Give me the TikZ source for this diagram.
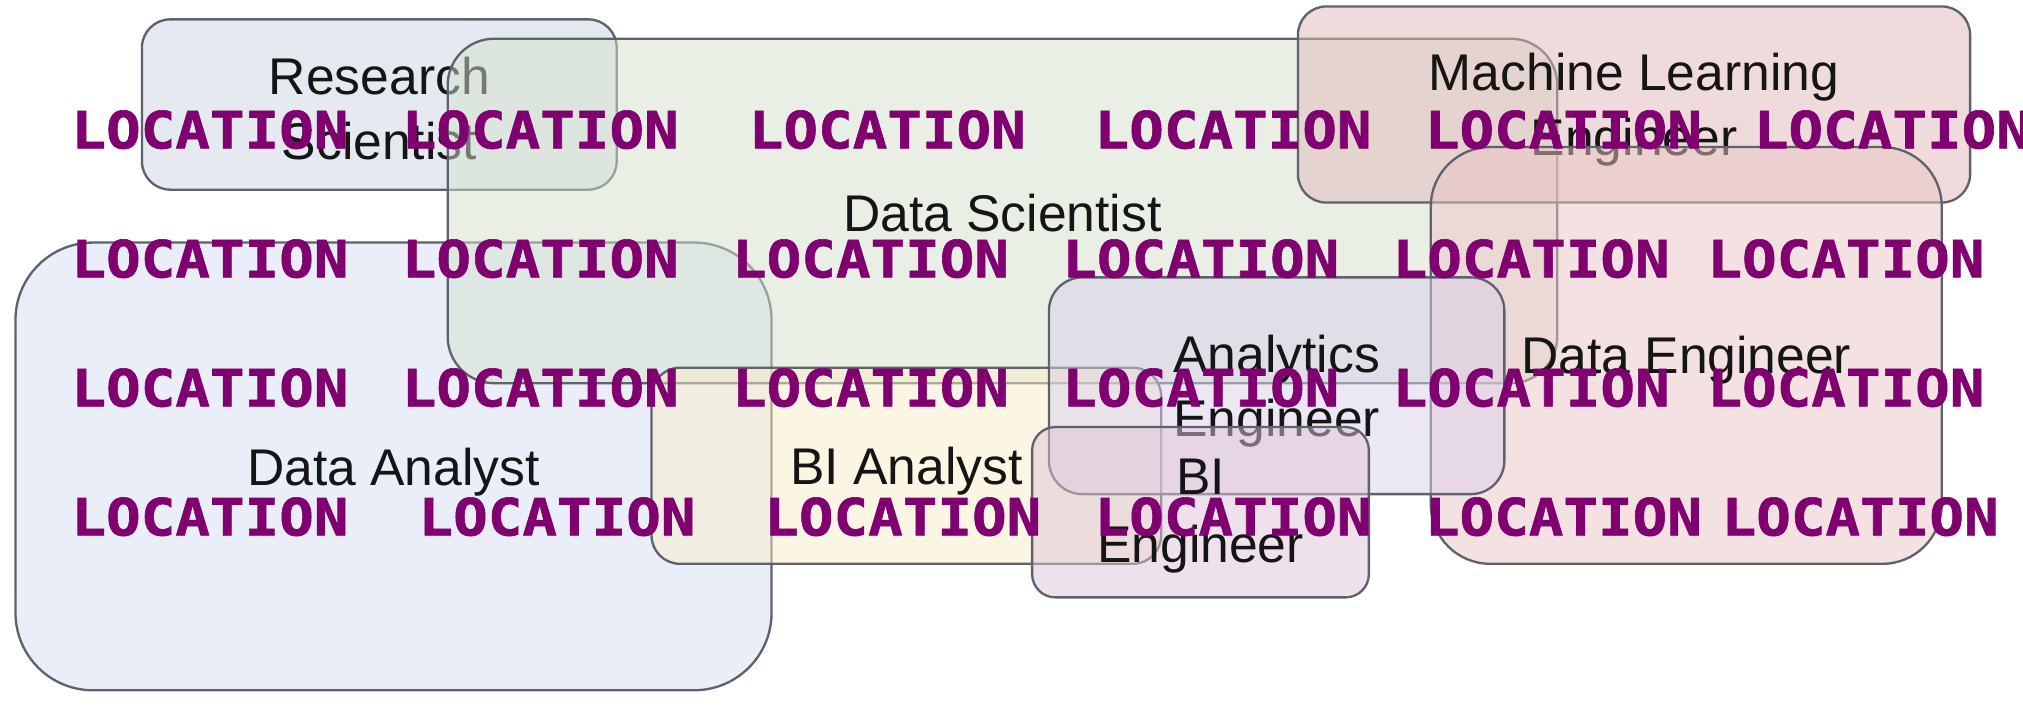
\documentclass[tikz,border=0pt]{standalone}
\usepackage{fontspec}
\setmainfont{Liberation Sans}
\newfontfamily\locfont{DejaVu Sans Mono}[FakeStretch=1.12, BoldFeatures={FakeBold=1.2}]
\definecolor{locpurple}{HTML}{800070}
\definecolor{edgegray}{HTML}{5E626C}
\definecolor{txtdark}{HTML}{151515}
\definecolor{cRS}{HTML}{CBD7E3}
\definecolor{cDS}{HTML}{D5E1CD}
\definecolor{cML}{HTML}{E1B9B9}
\definecolor{cDE}{HTML}{EBC5C5}
\definecolor{cDA}{HTML}{D7DFF3}
\definecolor{cBA}{HTML}{F9EDC9}
\definecolor{cAE}{HTML}{D9D1E9}
\definecolor{cBE}{HTML}{E1C5D9}
\tikzset{
  rolebox/.style={draw=edgegray, line width=0.9pt, fill opacity=0.5, inner sep=0pt},
  roletext/.style={text=txtdark, font=\fontsize{20}{25}\selectfont, align=center, inner sep=0pt},
  loc/.style={anchor=base west, inner sep=0pt, text=locpurple,
    font=\locfont\bfseries\fontsize{19.9}{20}\selectfont}
}
\begin{document}
\begin{tikzpicture}[x=0.5pt,y=-0.5pt]
\useasboundingbox (0,0) rectangle (1568,558);
\fill[white] (0,0) rectangle (1568,558);
% role boxes, each followed by its label
\node[rolebox, fill=cDA, minimum width=293pt, minimum height=173.5pt, rounded corners=30pt] (da) at (305,361.5) {};
\node[roletext] (da-t) at (305,366) {Data Analyst};
\node[rolebox, fill=cRS, minimum width=184pt, minimum height=66pt, rounded corners=11pt] (rs) at (294,81) {};
\node[roletext] (rs-t) at (294,84) {Research\\Scientist};
\node[rolebox, fill=cDS, minimum width=430pt, minimum height=133.5pt, rounded corners=18pt] (ds) at (777,163.5) {};
\node[roletext] (ds-t) at (777,165) {Data Scientist};
\node[rolebox, fill=cML, minimum width=260.5pt, minimum height=76pt, rounded corners=11pt] (ml) at (1266.5,81) {};
\node[roletext] (ml-t) at (1266.5,85) {Machine Learning\\Engineer};
\node[rolebox, fill=cDE, minimum width=198pt, minimum height=161.5pt, rounded corners=23pt] (de) at (1307,275.5) {};
\node[roletext] (de-t) at (1307,279) {Data Engineer};
\node[rolebox, fill=cBA, minimum width=197.5pt, minimum height=76pt, rounded corners=11pt] (ba) at (702.5,361) {};
\node[roletext] (ba-t) at (702.5,365) {BI Analyst};
\node[rolebox, fill=cAE, minimum width=176.5pt, minimum height=84pt, rounded corners=13pt] (ae) at (989.5,299) {};
\node[roletext] (ae-t) at (989.5,303) {Analytics\\Engineer};
\node[rolebox, fill=cBE, minimum width=130.5pt, minimum height=66pt, rounded corners=9pt] (be) at (930.5,397) {};
\node[roletext, font=\fontsize{20}{26.5}\selectfont] (be-t) at (930.5,400) {BI\\Engineer};
% LOCATION overlay
\node[loc] (l11) at (55,115) {LOCATION};
\node[loc] (l12) at (311,115) {LOCATION};
\node[loc] (l13) at (580,115) {LOCATION};
\node[loc] (l14) at (848,115) {LOCATION};
\node[loc] (l15) at (1104,115) {LOCATION};
\node[loc] (l16) at (1359,115) {LOCATION};
\node[loc] (l21) at (55,215) {LOCATION};
\node[loc] (l22) at (311,215) {LOCATION};
\node[loc] (l23) at (567,215) {LOCATION};
\node[loc] (l24) at (823,215) {LOCATION};
\node[loc] (l25) at (1079,215) {LOCATION};
\node[loc] (l26) at (1323,215) {LOCATION};
\node[loc] (l31) at (55,315) {LOCATION};
\node[loc] (l32) at (311,315) {LOCATION};
\node[loc] (l33) at (567,315) {LOCATION};
\node[loc] (l34) at (823,315) {LOCATION};
\node[loc] (l35) at (1079,315) {LOCATION};
\node[loc] (l36) at (1323,315) {LOCATION};
\node[loc] (l41) at (55,415) {LOCATION};
\node[loc] (l42) at (324,415) {LOCATION};
\node[loc] (l43) at (592,415) {LOCATION};
\node[loc] (l44) at (848,415) {LOCATION};
\node[loc] (l45) at (1104,415) {LOCATION};
\node[loc] (l46) at (1334,415) {LOCATION};
\end{tikzpicture}
\end{document}
